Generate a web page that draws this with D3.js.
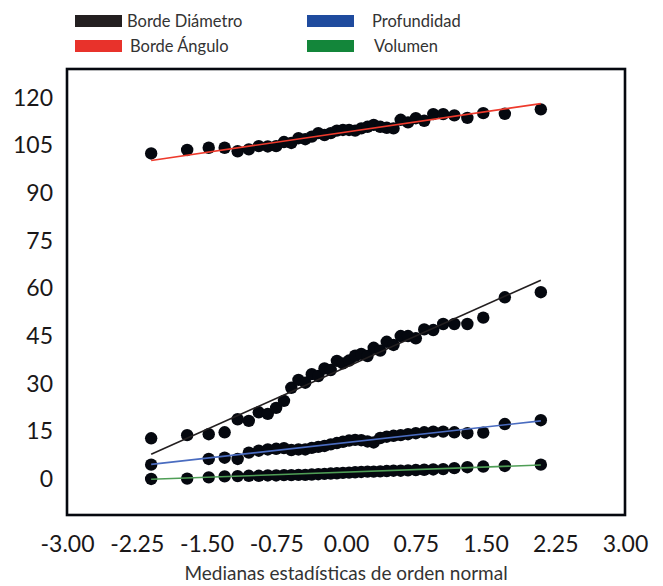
<!DOCTYPE html>
<html><head><meta charset="utf-8">
<script src="https://cdn.jsdelivr.net/npm/d3@7"></script>
<style>body{margin:0;background:#fff;}svg{display:block;}</style>
</head><body>
<svg id="chart" width="663" height="586"></svg>
<script>
// Normal order statistic medians (x positions)
const zMedians = [-2.095,-1.708,-1.476,-1.305,-1.165,-1.045,-0.938,-0.841,-0.751,-0.667,-0.588,-0.511,-0.438,-0.368,-0.298,-0.231,-0.164,-0.098,-0.033,0.033,0.098,0.164,0.231,0.298,0.368,0.438,0.511,0.588,0.667,0.751,0.841,0.938,1.045,1.165,1.305,1.476,1.708,2.095];

const seriesNames = ["Borde Diámetro","Borde Ángulo","Profundidad","Volumen"];
const seriesColors = ["#231f20","#e8322b","#1f4b9e","#13863a"];
const lineColors = ["#231f20","#ee3a2c","#4a6cc0","#4f9e56"];

const bordeDiametro = [12.5,13.5,13.8,14.4,18.5,18.0,20.7,20.2,22.1,24.3,28.4,30.9,30.0,32.7,32.1,34.5,34.0,36.9,36.1,37.0,38.5,39.1,38.4,41.0,40.1,42.9,41.9,44.7,44.7,44.0,46.8,46.6,48.5,48.5,48.5,50.5,56.9,58.5];
const bordeAngulo = [102.2,103.3,104.0,104.0,102.9,103.5,104.5,104.4,104.5,105.8,105.5,107.0,106.7,107.5,108.6,108.0,108.6,109.4,109.6,109.6,109.4,110.1,110.6,111.2,110.6,110.3,110.1,112.8,112.0,113.3,112.5,114.6,114.6,114.2,113.4,114.9,114.7,116.1];
const profundidad = [4.2,null,6.0,6.4,6.0,8.0,8.6,9.0,9.2,9.4,8.8,9.0,9.0,9.5,9.8,10.1,10.6,11.0,11.4,11.8,12.0,11.9,11.5,11.2,12.6,13.0,13.3,13.5,13.8,14.1,14.4,14.6,14.6,14.4,14.1,14.3,17.0,18.2];
const volumen = [-0.3,-0.2,0.2,0.5,0.6,0.7,0.7,0.8,0.8,0.9,0.9,1.0,1.0,1.1,1.2,1.3,1.4,1.5,1.6,1.7,1.8,1.9,2.0,2.0,2.1,2.2,2.3,2.3,2.4,2.5,2.6,2.7,2.8,3.1,3.4,3.6,3.8,4.2];

// Reference line end values (at first and last x)
const lineStart = [7.5, 100.0, 4.3, -0.4];
const lineEnd = [62.3, 117.9, 18.0, 4.1];

const xTicks = [-3.00,-2.25,-1.50,-0.75,0.00,0.75,1.50,2.25,3.00];
const yTicks = [0,15,30,45,60,75,90,105,120];

const allSeries = [bordeDiametro, bordeAngulo, profundidad, volumen];

(function(){
const svg = d3.select("#chart");
const mL = 67, mR = 625, mT = 69, mB = 515;
const x = d3.scaleLinear().domain([-3,3]).range([mL,mR]);
const y = d3.scaleLinear().domain([-11.65,128.8]).range([mB,mT]);

const fmtX = d => d3.format(".2f")(d).replace("\u2212","-");
const xAxis = d3.axisBottom(x).tickValues(xTicks).tickSize(0).tickPadding(0).tickFormat(fmtX);
const gx = svg.append("g").attr("transform",`translate(0,${mB+21})`).call(xAxis);
gx.select(".domain").remove();
gx.selectAll("text").attr("font-family","Lato, sans-serif").attr("font-size",23).attr("fill","#1a1718").attr("dy","0.71em");

const yAxis = d3.axisLeft(y).tickValues(yTicks).tickSize(0).tickPadding(0).tickFormat(d3.format("d"));
const gy = svg.append("g").attr("transform",`translate(${mL-14},0)`).call(yAxis);
gy.select(".domain").remove();
gy.selectAll("text").attr("font-family","Lato, sans-serif").attr("font-size",23).attr("fill","#1a1718").attr("dy","0.36em");

allSeries.forEach((s,si)=>{
  svg.append("g").selectAll("circle")
    .data(s.map((v,i)=>({z:zMedians[i],v})).filter(d=>d.v!==null))
    .join("circle")
    .attr("cx",d=>x(d.z)).attr("cy",d=>y(d.v)).attr("r",6.2)
    .attr("fill","#05080f");
});

allSeries.forEach((s,si)=>{
  svg.append("line")
    .attr("x1",x(zMedians[0])).attr("y1",y(lineStart[si]))
    .attr("x2",x(zMedians[zMedians.length-1])).attr("y2",y(lineEnd[si]))
    .attr("stroke",lineColors[si]).attr("stroke-width",1.6);
});

svg.append("rect").attr("x",mL).attr("y",mT).attr("width",mR-mL).attr("height",mB-mT)
  .attr("fill","none").attr("stroke","#05080f").attr("stroke-width",2.6);

svg.append("text").attr("x",(mL+mR)/2).attr("y",580).attr("text-anchor","middle")
  .attr("font-family","Lato, sans-serif").attr("font-size",19).attr("fill","#333")
  .text("Medianas estadísticas de orden normal");

const legPos = [[75,15],[75,40],[307,15],[307,40]];
const legTextX = [127,130,372,374];
seriesNames.forEach((n,i)=>{
  svg.append("rect").attr("x",legPos[i][0]).attr("y",legPos[i][1]).attr("width",47).attr("height",12).attr("fill",seriesColors[i]);
  svg.append("text").attr("x",legTextX[i]).attr("y",legPos[i][1]+12).attr("font-family","Lato, sans-serif")
    .attr("font-size",16.5).attr("fill","#333").text(n);
});
})();
</script>
</body></html>
